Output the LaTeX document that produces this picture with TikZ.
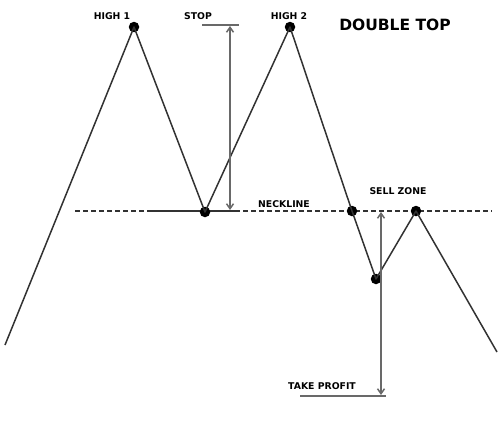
\documentclass[tikz,border=0pt]{standalone}
\usepackage{fontspec}
\setmainfont{DejaVu Sans}
\usetikzlibrary{arrows.meta}
\definecolor{dtline}{RGB}{50,50,50}
\definecolor{dtarrow}{RGB}{105,105,105}
\tikzset{
    pivot/.style={circle, fill=black, inner sep=0pt, minimum size=10.5pt},
    tag/.style={font=\bfseries\fontsize{9.3}{10}\selectfont, inner sep=0pt},
    price/.style={dtline, line width=1.5pt, line join=round},
    measure/.style={dtarrow, line width=1.5pt, {Straight Barb[length=5pt,width=7pt]}-{Straight Barb[length=5pt,width=7pt]}},
    bar/.style={dtarrow, line width=1.5pt}
}

\begin{document}
\begin{tikzpicture}[x=1pt, y=-1pt]
    \useasboundingbox (0,0) rectangle (500,447);

    % ---------------- neckline ----------------
    \coordinate (neckL) at (75,211);
    \coordinate (neckR) at (492,211);
    \draw[dtline, line width=1.5pt, dash pattern=on 5pt off 3pt] (neckL) -- (neckR);
    \draw[dtline, line width=1.5pt] (148,211) -- (236,211);

    % ---------------- pivots ----------------
    \coordinate (start) at (5,345);
    \node[pivot] (high1) at (134,27) {};
    \node[pivot] (low1) at (205,212) {};
    \node[pivot] (high2) at (290,27) {};
    \node[pivot] (brk) at (352,211) {};
    \node[pivot] (low2) at (376,279) {};
    \node[pivot] (retest) at (416,211) {};
    \coordinate (finish) at (497,352);

    % price path
    \draw[price] (start) -- (high1.center) -- (low1.center) -- (high2.center)
        -- (brk.center) -- (low2.center) -- (retest.center) -- (finish);

    % ---------------- stop ----------------
    \coordinate (stopT) at (230,26);
    \coordinate (stopB) at (230,210);
    \draw[bar] (202,25) -- (239,25);
    \draw[measure] (stopB) -- (stopT);

    % ---------------- take profit ----------------
    \coordinate (tpT) at (381,212);
    \coordinate (tpB) at (381,395);
    \draw[bar] (300,396) -- (386,396);
    \draw[measure] (tpT) -- (tpB);

    % ---------------- labels ----------------
    \node[tag] (lblhigh1) at (112,16) {HIGH 1};
    \node[tag] (lblstop) at (198,16) {STOP};
    \node[tag] (lblhigh2) at (289,16) {HIGH 2};
    \node[tag] (lblneck) at (284,204) {NECKLINE};
    \node[tag] (lblsell) at (398,191) {SELL ZONE};
    \node[tag] (lbltp) at (322,386) {TAKE PROFIT};
    \node[font=\bfseries\fontsize{15.5}{17}\selectfont, inner sep=0pt] (title) at (395,25) {DOUBLE TOP};
\end{tikzpicture}
\end{document}
